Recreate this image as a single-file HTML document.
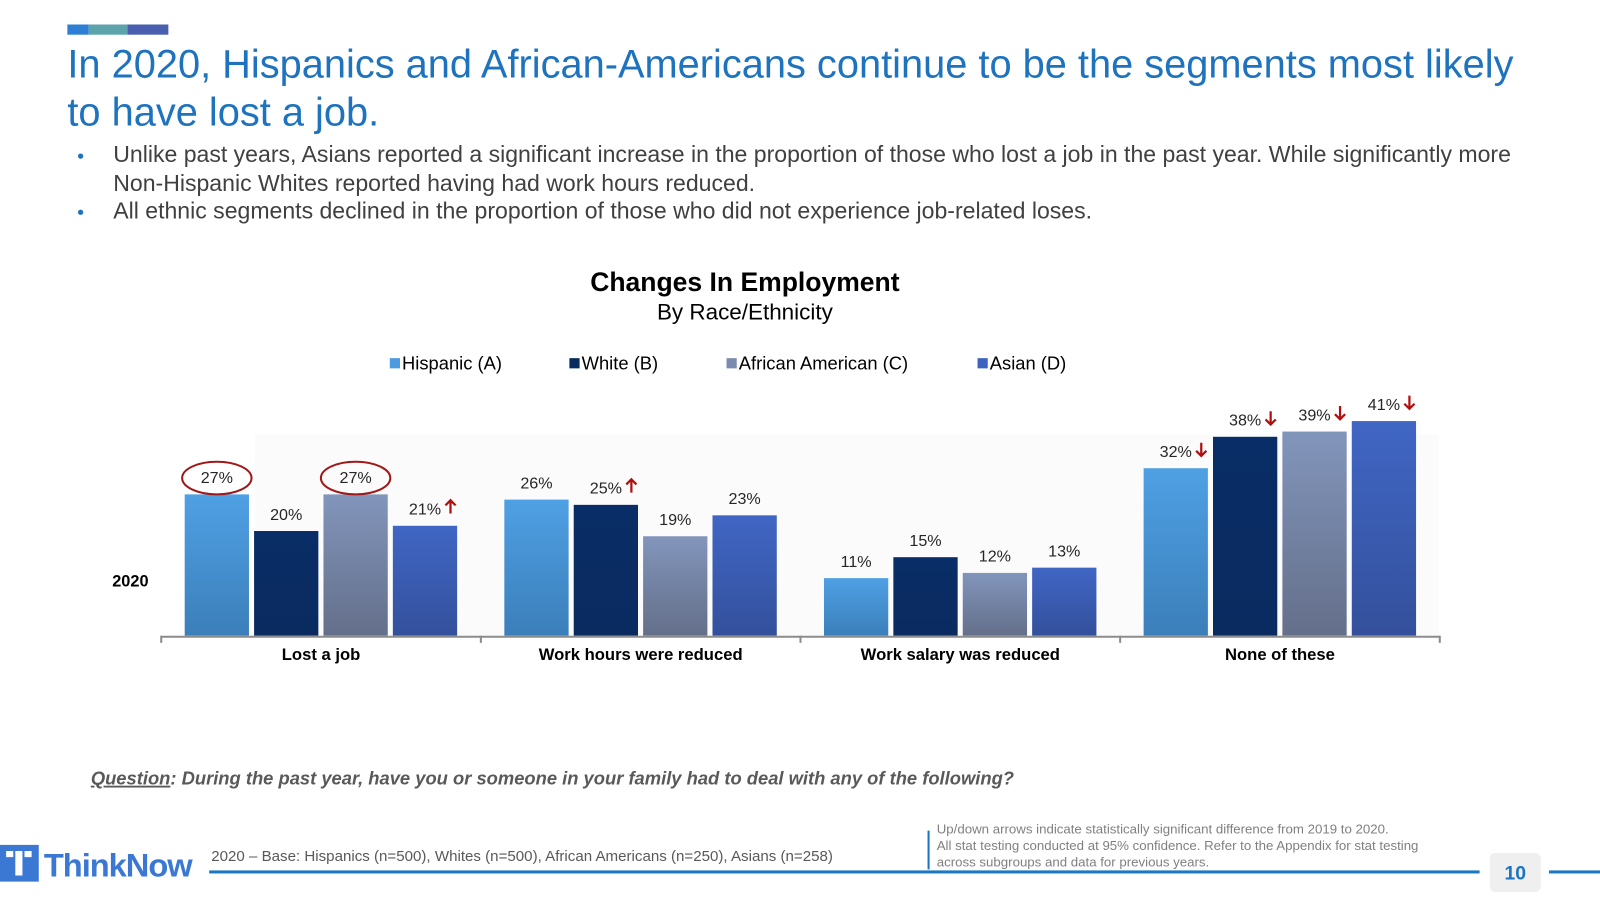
<!DOCTYPE html>
<html><head><meta charset="utf-8">
<style>
body{margin:0;background:#fff;}
svg{display:block;font-family:"Liberation Sans",Arial,sans-serif;}
</style></head>
<body>
<svg id="slide" width="1600" height="900" viewBox="0 0 1600 900">
<defs>
<linearGradient id="gA" x1="0" y1="0" x2="0" y2="1"><stop offset="0" stop-color="#4fa0e4"/><stop offset="1" stop-color="#3b7fba"/></linearGradient>
<linearGradient id="gB" x1="0" y1="0" x2="0" y2="1"><stop offset="0" stop-color="#092d66"/><stop offset="1" stop-color="#0a2b60"/></linearGradient>
<linearGradient id="gC" x1="0" y1="0" x2="0" y2="1"><stop offset="0" stop-color="#8295bb"/><stop offset="1" stop-color="#646f8a"/></linearGradient>
<linearGradient id="gD" x1="0" y1="0" x2="0" y2="1"><stop offset="0" stop-color="#4066c4"/><stop offset="1" stop-color="#34509c"/></linearGradient>
</defs>
<g transform="scale(1.0204)">
<g>
<rect x="66" y="24" width="21" height="10" fill="#2d7fd6"/>
<rect x="87" y="24" width="38" height="10" fill="#5ba4ac"/>
<rect x="125" y="24" width="40" height="10" fill="#4a5fad"/>
</g>
<text fill="#1e73be" font-size="39" x="66" y="76">In 2020, Hispanics and African-Americans continue to be the segments most likely</text>
<text fill="#1e73be" font-size="39" x="66" y="123">to have lost a job.</text>
<g font-size="22.6" fill="#404040">
<circle cx="79" cy="153" r="2.6" fill="#1e73be"/>
<text x="111" y="159">Unlike past years, Asians reported a significant increase in the proportion of those who lost a job in the past year.  While significantly more</text>
<text x="111" y="187">Non-Hispanic Whites reported having had work hours reduced.</text>
<circle cx="79" cy="208" r="2.6" fill="#1e73be"/>
<text x="111" y="214">All ethnic segments declined in the proportion of those who did not experience job-related loses.</text>
</g>
<text x="730" y="285" text-anchor="middle" font-size="26" font-weight="bold" fill="#000">Changes In Employment</text>
<text x="730" y="313" text-anchor="middle" font-size="22" fill="#000">By Race/Ethnicity</text>
<g id="legend" font-size="18" fill="#000"></g>
<rect x="250" y="426" width="1160" height="197" fill="#fbfbfb"/>
<g id="bars"></g>
<g id="axis"></g>
<text x="110" y="575" font-size="16" font-weight="bold" fill="#000">2020</text>
<text x="89" y="769" font-size="18" font-weight="bold" font-style="italic" fill="#595959"><tspan text-decoration="underline">Question</tspan>: During the past year, have you or someone in your family had to deal with any of the following?</text>
<g>
<rect x="0" y="828" width="38" height="36" fill="#3a78d4"/>
<rect x="6" y="834" width="7" height="6" fill="#fff"/>
<rect x="24" y="834" width="7" height="6" fill="#fff"/>
<rect x="15" y="834" width="7" height="24" fill="#fff"/>
<text x="43" y="859" font-size="32" font-weight="bold" fill="#3a78d4" letter-spacing="-1">ThinkNow</text>
</g>
<text x="207" y="844" font-size="14.8" fill="#595959">2020 – Base: Hispanics (n=500), Whites (n=500), African Americans (n=250), Asians (n=258)</text>
<rect x="909" y="814" width="2" height="38" fill="#1e73be"/>
<g font-size="13" fill="#808080">
<text x="918" y="817">Up/down arrows indicate statistically significant difference from 2019 to 2020.</text>
<text x="918" y="833">All stat testing conducted at 95% confidence. Refer to the Appendix for stat testing</text>
<text x="918" y="849">across subgroups and data for previous years.</text>
</g>
<rect x="205" y="853" width="1245" height="3" fill="#1e78c0"/>
<rect x="1518" y="853" width="82" height="3" fill="#1e78c0"/>
<rect x="1460" y="836" width="50" height="38" rx="5" fill="#efefef"/>
<text x="1485" y="862" text-anchor="middle" font-size="19" font-weight="bold" fill="#1e73be">10</text>
</g>
</svg>
<script>
const categories = ["Lost a job","Work hours were reduced","Work salary was reduced","None of these"];
const seriesNames = ["Hispanic (A)","White (B)","African American (C)","Asian (D)"];
const hispanic = [27,26,11,32];
const white = [20,25,15,38];
const africanAmerican = [27,19,12,39];
const asian = [21,23,13,41];
const sigHispanic = ["","","","down"];
const sigWhite = ["","up","","down"];
const sigAfricanAmerican = ["","","","down"];
const sigAsian = ["up","","","down"];
const circledHispanic = [true,false,false,false];
const circledAfricanAmerican = [true,false,false,false];

const NS="http://www.w3.org/2000/svg";
const series=[hispanic,white,africanAmerican,asian];
const sigs=[sigHispanic,sigWhite,sigAfricanAmerican,sigAsian];
const circled=[circledHispanic,[false,false,false,false],circledAfricanAmerican,[false,false,false,false]];
const fills=["url(#gA)","url(#gB)","url(#gC)","url(#gD)"];
const legendColors=["#4a9be0","#0a2b60","#7b8bb0","#3d62c0"];
const axL=158, axR=1411, baseY=623, pxPer=5.13;
const groupW=(axR-axL)/categories.length;
function xBar(g,s){return axL+g*groupW+23+s*68;}
function yVal(v){return baseY-v*pxPer;}
function mk(tag,attrs,parent){const e=document.createElementNS(NS,tag);for(const k in attrs)e.setAttribute(k,attrs[k]);parent.appendChild(e);return e;}

const legend=document.getElementById('legend');
const legX=[382,558,712,958];
seriesNames.forEach((n,i)=>{
  const r=mk('rect',{x:legX[i],y:351,width:10,height:10,fill:legendColors[i]},legend);
  
  
  const t=mk('text',{x:legX[i]+12,y:362},legend);
  
  
  t.textContent=n;
});

const bars=document.getElementById('bars');
categories.forEach((c,g)=>{
  series.forEach((arr,s)=>{
    const v=arr[g], x=xBar(g,s), y=yVal(v), w=63;
    const r=mk('rect',{x:x,y:y,width:w,height:baseY-y,fill:fills[s]},bars);
    
    
    const cx=x+w/2, ty=y-11;
    const t=mk('text',{x:cx,y:ty,'text-anchor':'middle','font-size':15.8,fill:'#262626'},bars);
    
    
    t.textContent=v+'%';
    if(circled[s][g]){
      const e=mk('ellipse',{cx:cx,cy:ty-5,rx:34,ry:16,fill:'none',stroke:'#a01818','stroke-width':2},bars);
      
      
    }
    const sg=sigs[s][g];
    if(sg){
      const ax=cx+25, top=ty-14, bot=ty-1;
      const p = sg==='up'
        ? `M${ax},${bot} L${ax},${top} M${ax-5},${top+5} L${ax},${top} L${ax+5},${top+5}`
        : `M${ax},${top} L${ax},${bot} M${ax-5},${bot-5} L${ax},${bot} L${ax+5},${bot-5}`;
      const a=mk('path',{d:p,stroke:'#b01010','stroke-width':2.2,fill:'none'},bars);
      
      
    }
  });
});

const axis=document.getElementById('axis');
const al=mk('line',{x1:axL,y1:baseY+1,x2:axR,y2:baseY+1,stroke:'#8c8c8c','stroke-width':2},axis);


for(let i=0;i<=categories.length;i++){
  const x=axL+i*groupW;
  const tk=mk('line',{x1:x,y1:baseY,x2:x,y2:baseY+7,stroke:'#8c8c8c','stroke-width':2},axis);
  
  
}
categories.forEach((c,g)=>{
  const t=mk('text',{x:axL+(g+0.5)*groupW,y:647,'text-anchor':'middle','font-size':16.3,'font-weight':'bold',fill:'#000'},axis);
  
  
  t.textContent=c;
});
</script>
</body></html>
